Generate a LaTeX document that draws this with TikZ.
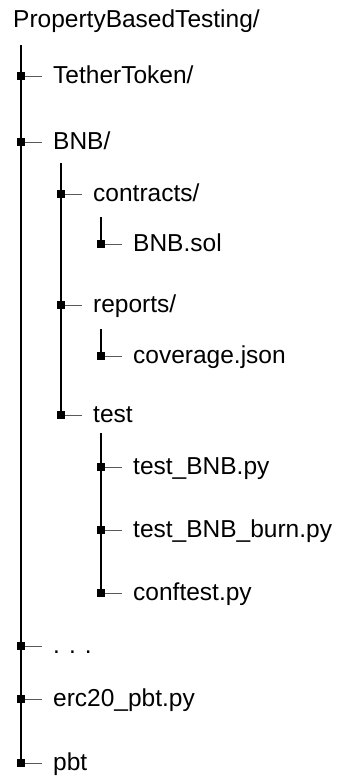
\documentclass[tikz,border=0pt]{standalone}
\usepackage{fontspec}
\setmainfont{Liberation Sans}
\usetikzlibrary{positioning}

\begin{document}
\begin{tikzpicture}[x=1pt, y=-1pt,
  knot/.style={fill=black, inner sep=0pt, minimum size=7.5pt},
  entry/.style={inner xsep=11pt, inner ysep=0pt, text height=18pt, text depth=3pt, font=\fontsize{24.5}{29}\selectfont},
  twig/.style={black!65, line width=0.8pt},
  trunk/.style={black, line width=1.1pt},
]
\useasboundingbox (0,0) rectangle (348,776);
% root folder
\node[entry, anchor=base west, inner xsep=0pt] (root) at (13,28) {PropertyBasedTesting/};
% === top level ===
\node[knot] (kTether) at (21,76) {};
\node[entry, right=21pt of kTether.center] (tTether) {TetherToken/};
\node[knot] (kBNB) at (21,142) {};
\node[entry, right=21pt of kBNB.center] (tBNB) {BNB/};
\node[knot] (kDots) at (21,646) {};
\node[entry, right=21pt of kDots.center] (tDots) {. . .};
\node[knot] (kErc) at (21,699) {};
\node[entry, right=21pt of kErc.center] (tErc) {erc20\_pbt.py};
\node[knot] (kPbt) at (21,763) {};
\node[entry, right=21pt of kPbt.center] (tPbt) {pbt};
% === inside BNB/ ===
\node[knot] (kContr) at (61,194) {};
\node[entry, right=21pt of kContr.center] (tContr) {contracts/};
\node[knot] (kRep) at (61,305) {};
\node[entry, right=21pt of kRep.center] (tRep) {reports/};
\node[knot] (kTest) at (61,415) {};
\node[entry, right=21pt of kTest.center] (tTest) {test};
% === third level ===
\node[knot] (kSol) at (101,244) {};
\node[entry, right=21pt of kSol.center] (tSol) {BNB.sol};
\node[knot] (kCov) at (101,356) {};
\node[entry, right=21pt of kCov.center] (tCov) {coverage.json};
\node[knot] (kTB) at (101,467) {};
\node[entry, right=21pt of kTB.center] (tTB) {test\_BNB.py};
\node[knot] (kBurn) at (101,530) {};
\node[entry, right=21pt of kBurn.center] (tBurn) {test\_BNB\_burn.py};
\node[knot] (kConf) at (101,593) {};
\node[entry, right=21pt of kConf.center] (tConf) {conftest.py};
% trunks
\coordinate (r0) at (21,45);
\coordinate (b0) at (61,163);
\coordinate (c0) at (101,217);
\coordinate (d0) at (101,329);
\coordinate (e0) at (101,433);
\draw[trunk] (r0) -- (kPbt.center);
\draw[trunk] (b0) -- (kTest.center);
\draw[trunk] (c0) -- (kSol.center);
\draw[trunk] (d0) -- (kCov.center);
\draw[trunk] (e0) -- (kConf.center);
% twigs
\draw[twig] (kTether) -- (tTether);
\draw[twig] (kBNB) -- (tBNB);
\draw[twig] (kDots) -- (tDots);
\draw[twig] (kErc) -- (tErc);
\draw[twig] (kPbt) -- (tPbt);
\draw[twig] (kContr) -- (tContr);
\draw[twig] (kRep) -- (tRep);
\draw[twig] (kTest) -- (tTest);
\draw[twig] (kSol) -- (tSol);
\draw[twig] (kCov) -- (tCov);
\draw[twig] (kTB) -- (tTB);
\draw[twig] (kBurn) -- (tBurn);
\draw[twig] (kConf) -- (tConf);
\end{tikzpicture}
\end{document}
